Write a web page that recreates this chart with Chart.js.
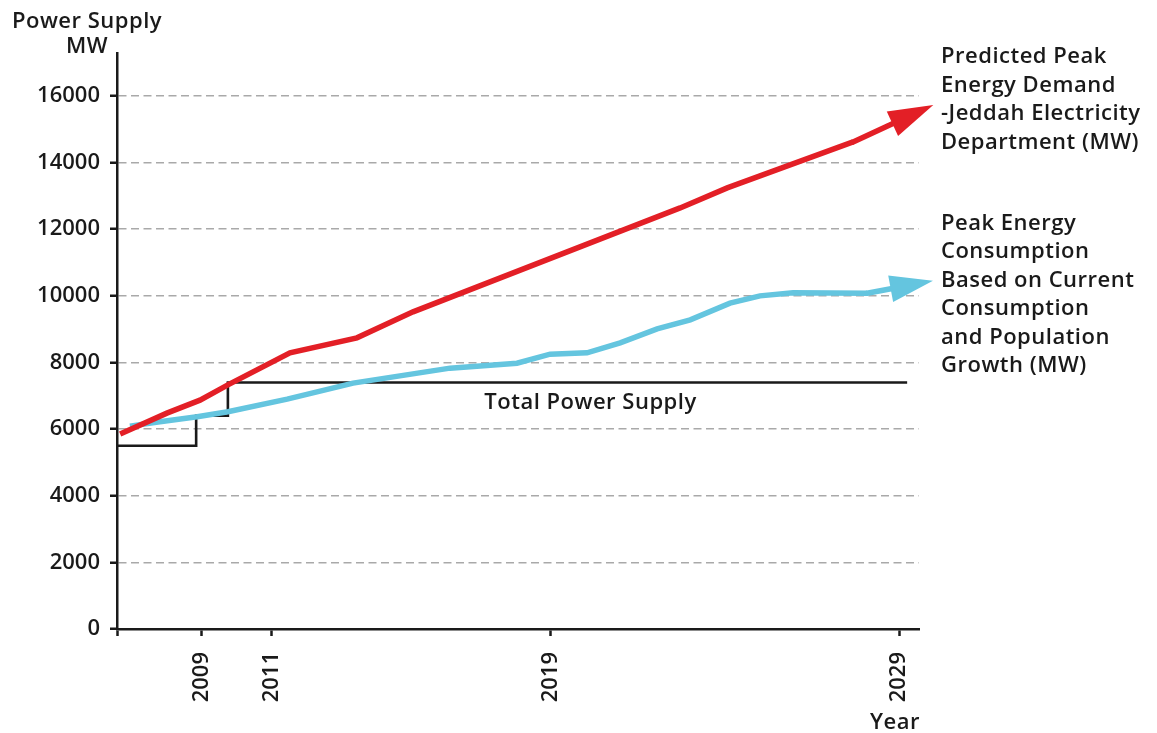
<!DOCTYPE html>
<html>
<head>
<meta charset="utf-8">
<title>Power Supply and Peak Energy Demand</title>
<script src="https://cdn.jsdelivr.net/npm/chart.js@4"></script>
<style>
  html, body { margin: 0; padding: 0; background: #fff; }
</style>
</head>
<body>
<canvas id="powerChart" width="1157" height="733"></canvas>
<script>
// Values; the year positions of the bends are not whole years
const demandYears = [2006.66, 2008.0, 2008.95, 2009.75, 2011.53, 2013.45, 2015.06, 2022.72, 2024.07, 2027.68, 2029.98];
const demandMW = [5850, 6480, 6870, 7330, 8290, 8740, 9520, 12640, 13240, 14620, 15730];

const consumptionYears = [2006.94, 2007.8, 2008.87, 2009.75, 2011.45, 2013.34, 2016.12, 2018.04, 2018.99, 2020.05, 2021.0, 2022.06, 2023.01, 2024.15, 2025.01, 2025.96, 2028.08, 2029.97];
const consumptionMW = [6090, 6220, 6370, 6520, 6900, 7380, 7830, 7980, 8250, 8290, 8590, 9010, 9280, 9780, 10000, 10090, 10080, 10450];

// total power supply steps (corner points)
const supplyYears = [2006.57, 2008.84, 2008.84, 2009.75, 2009.75, 2029.23];
const supplyMW = [5500, 5500, 6400, 6400, 7400, 7400];

const yearTicks = [2009, 2011, 2019, 2029];
const mwTicks = [0, 2000, 4000, 6000, 8000, 10000, 12000, 14000, 16000];

const demandLabel = ['Predicted Peak', 'Energy Demand', '-Jeddah Electricity', 'Department (MW)'];
const consumptionLabel = ['Peak Energy', 'Consumption', 'Based on Current', 'Consumption', 'and Population', 'Growth (MW)'];

const RED = '#e31f26';
const BLUE = '#64c5df';
const INK = '#1a1a1a';
const FONT = '"Open Sans", "Noto Sans", sans-serif';

const toPoints = (xs, ys) => xs.map((x, i) => ({ x: x, y: ys[i] }));

// the last point of an arrowed series is the arrow tip; the plugin draws that part
const hideLast = n => ctx => ctx.p1DataIndex === n - 1 ? 'rgba(0,0,0,0)' : undefined;

const arrowHeads = {
  id: 'arrowHeads',
  afterDatasetsDraw(chart) {
    const ctx = chart.ctx;
    chart.data.datasets.forEach((ds, i) => {
      if (!ds.arrowLength) return;
      const pts = chart.getDatasetMeta(i).data;
      const tip = pts[pts.length - 1];
      const prev = pts[pts.length - 2];
      const len = Math.hypot(tip.x - prev.x, tip.y - prev.y);
      const ux = (tip.x - prev.x) / len;
      const uy = (tip.y - prev.y) / len;
      const bx = tip.x - ux * ds.arrowLength;
      const by = tip.y - uy * ds.arrowLength;
      const hw = ds.arrowWidth / 2;
      ctx.save();
      ctx.strokeStyle = ds.borderColor;
      ctx.lineWidth = ds.borderWidth;
      ctx.lineCap = 'round';
      ctx.beginPath();
      ctx.moveTo(prev.x, prev.y);
      ctx.lineTo(bx + ux * 3, by + uy * 3);
      ctx.stroke();
      ctx.fillStyle = ds.borderColor;
      ctx.beginPath();
      ctx.moveTo(tip.x, tip.y);
      ctx.lineTo(bx - uy * hw, by + ux * hw);
      ctx.lineTo(bx + uy * hw, by - ux * hw);
      ctx.closePath();
      ctx.fill();
      ctx.restore();
    });
  }
};

const chartText = {
  id: 'chartText',
  afterDraw(chart) {
    const { ctx, chartArea, scales } = chart;
    ctx.save();
    ctx.fillStyle = INK;
    ctx.font = '600 22px ' + FONT;
    ctx.letterSpacing = '0.5px';
    ctx.textBaseline = 'alphabetic';

    ctx.textAlign = 'center';
    ctx.fillText('Power Supply', 87, 28);
    ctx.fillText('MW', 87, 53);
    ctx.fillText('Total Power Supply', scales.x.getPixelForValue(2020.15), scales.y.getPixelForValue(7400) + 27);

    ctx.textAlign = 'right';
    ctx.fillText('Year', chartArea.right + 1, 729);

    ctx.textAlign = 'left';
    const tx = chartArea.right + 22;
    demandLabel.forEach((line, i) => ctx.fillText(line, tx, 63 + i * 28.5));
    consumptionLabel.forEach((line, i) => ctx.fillText(line, tx, 230 + i * 28.4));
    ctx.restore();
  }
};

new Chart(document.getElementById('powerChart').getContext('2d'), {
  type: 'line',
  data: {
    datasets: [
      {
        label: 'Predicted Peak Energy Demand',
        data: toPoints(demandYears, demandMW),
        borderColor: RED,
        borderWidth: 5.5,
        pointRadius: 0,
        arrowLength: 45,
        arrowWidth: 27,
        segment: { borderColor: hideLast(demandYears.length) },
        order: 0
      },
      {
        label: 'Peak Energy Consumption',
        data: toPoints(consumptionYears, consumptionMW),
        borderColor: BLUE,
        borderWidth: 5.5,
        pointRadius: 0,
        arrowLength: 43,
        arrowWidth: 27,
        segment: { borderColor: hideLast(consumptionYears.length) },
        order: 1
      },
      {
        label: 'Total Power Supply',
        data: toPoints(supplyYears, supplyMW),
        borderColor: INK,
        borderWidth: 2.6,
        pointRadius: 0,
        order: 2
      }
    ]
  },
  options: {
    responsive: false,
    animation: false,
    devicePixelRatio: 1,
    layout: { padding: { top: 53, right: 238, left: 0, bottom: 0 } },
    plugins: {
      legend: { display: false },
      tooltip: { enabled: false }
    },
    scales: {
      x: {
        type: 'linear',
        min: 2006.57,
        max: 2029.57,
        afterBuildTicks: s => { s.ticks = [2006.57, ...yearTicks].map(v => ({ value: v })); },
        afterFit: s => { s.height = 104; },
        ticks: {
          autoSkip: false,
          minRotation: 90,
          maxRotation: 90,
          padding: 16,
          color: INK,
          font: { family: FONT, size: 22, weight: '600' },
          callback: v => yearTicks.includes(v) ? String(v) : ''
        },
        grid: {
          drawOnChartArea: false,
          drawTicks: true,
          tickLength: 7,
          tickWidth: 2.5,
          tickColor: INK
        },
        border: { color: INK, width: 2.5 }
      },
      y: {
        min: 0,
        max: 17290,
        afterBuildTicks: s => { s.ticks = mwTicks.map(v => ({ value: v })); },
        afterFit: s => { s.width = 117; },
        ticks: {
          padding: 10,
          color: INK,
          font: { family: FONT, size: 22, weight: '600' },
          callback: v => String(v)
        },
        grid: {
          color: c => (c.tick && c.tick.value === 0) ? 'rgba(0,0,0,0)' : '#a9a9a9',
          lineWidth: 1.5,
          tickLength: 7,
          tickWidth: 2.5,
          tickColor: INK
        },
        border: { color: INK, width: 2.5, dash: [8, 4.5] }
      }
    }
  },
  plugins: [arrowHeads, chartText]
});
</script>
</body>
</html>
